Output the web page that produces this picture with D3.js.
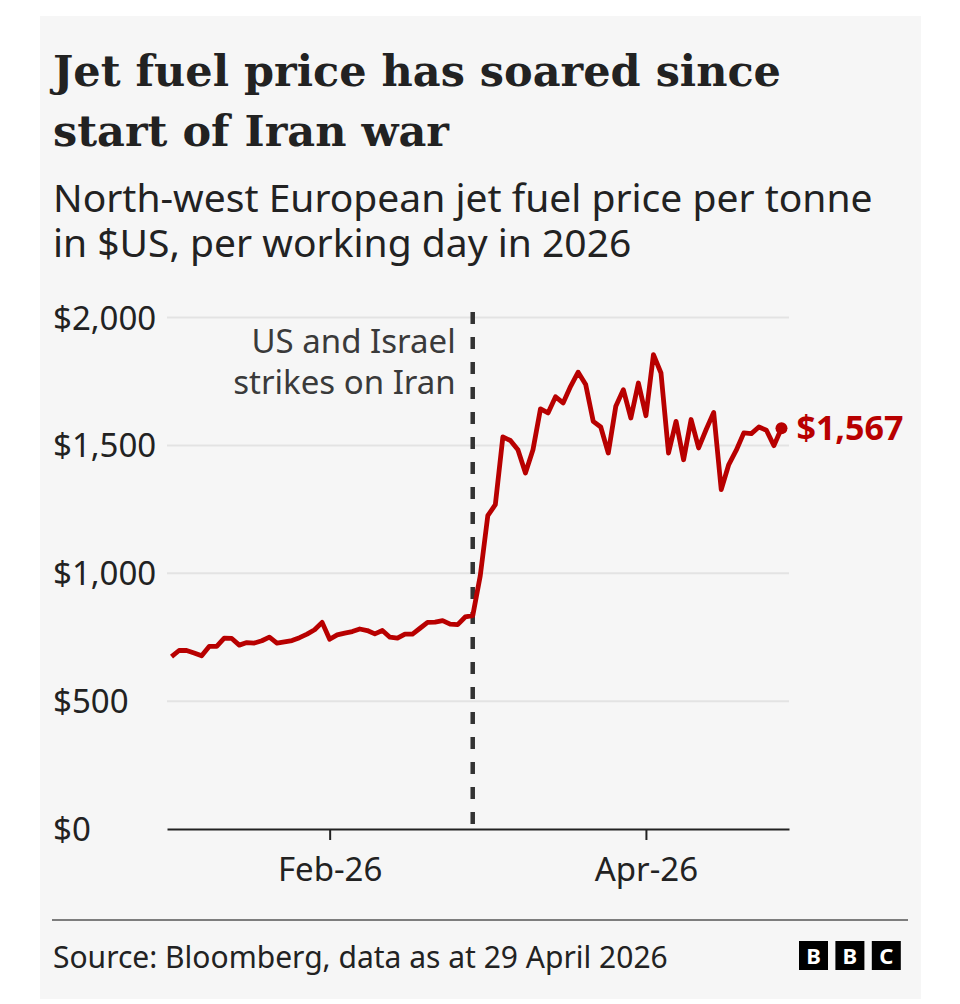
<!DOCTYPE html>
<html>
<head>
<meta charset="utf-8">
<script src="https://cdn.jsdelivr.net/npm/d3@7"></script>
<style>
  html, body { margin: 0; padding: 0; background: #ffffff; }
  svg { display: block; }
  .sans { font-family: "Noto Sans", "Open Sans", sans-serif; }
</style>
</head>
<body>
<svg id="chart" width="960" height="1004"></svg>
<script>
// working days shown on the chart (one point per day)
const dates = [
  "2026-01-02","2026-01-05","2026-01-06","2026-01-07","2026-01-08","2026-01-09",
  "2026-01-12","2026-01-13","2026-01-14","2026-01-15","2026-01-16",
  "2026-01-19","2026-01-20","2026-01-21","2026-01-22","2026-01-23",
  "2026-01-26","2026-01-27","2026-01-28","2026-01-29","2026-01-30",
  "2026-02-02","2026-02-03","2026-02-04","2026-02-05","2026-02-06",
  "2026-02-09","2026-02-10","2026-02-11","2026-02-12","2026-02-13",
  "2026-02-16","2026-02-17","2026-02-18","2026-02-19","2026-02-20",
  "2026-02-23","2026-02-24","2026-02-25","2026-02-26","2026-02-27",
  "2026-03-02","2026-03-03","2026-03-04","2026-03-05","2026-03-06",
  "2026-03-09","2026-03-10","2026-03-11","2026-03-12","2026-03-13",
  "2026-03-16","2026-03-17","2026-03-18","2026-03-19","2026-03-20",
  "2026-03-23","2026-03-24","2026-03-25","2026-03-26","2026-03-27",
  "2026-03-30","2026-03-31",
  "2026-04-01","2026-04-02","2026-04-07","2026-04-08","2026-04-09","2026-04-10",
  "2026-04-13","2026-04-14","2026-04-15","2026-04-16","2026-04-17",
  "2026-04-20","2026-04-21","2026-04-22","2026-04-23","2026-04-24",
  "2026-04-27","2026-04-28","2026-04-29"
];

// $ per tonne
const prices = [
  674, 698, 698, 688, 677, 714,
  714, 746, 745, 719, 729,
  727, 736, 750, 727, 732,
  737, 748, 762, 779, 808,
  742, 759, 766, 772, 782,
  776, 763, 776, 750, 746,
  762, 762, 785, 808, 809,
  815, 801, 799, 829, 834,
  990, 1225, 1268, 1533, 1519,
  1483, 1392, 1483, 1643, 1627,
  1690, 1666, 1731, 1786, 1738,
  1594, 1572, 1470, 1653, 1718,
  1607, 1744,
  1616, 1855, 1783, 1470, 1594, 1444,
  1601, 1490, 1562, 1629, 1327,
  1425, 1481, 1549, 1546, 1572,
  1559, 1499, 1567
];

const yTicks = [0, 500, 1000, 1500, 2000];
const xTickDates = ["2026-02-02", "2026-04-01"];
const strikeDate = "2026-02-27";
const strikeLabel = ["US and Israel", "strikes on Iran"];
const titleLines = ["Jet fuel price has soared since", "start of Iran war"];
const subtitleLines = ["North-west European jet fuel price per tonne", "in $US, per working day in 2026"];
const sourceText = "Source: Bloomberg, data as at 29 April 2026";

const red = "#b80000";
const ink = "#222222";

let svg = d3.select("#chart");

// grey card
svg.append("rect")
  .attr("x", 40).attr("y", 16)
  .attr("width", 881).attr("height", 983)
  .attr("fill", "#f6f6f6");

// title + subtitle
let title = svg.append("text")
  .attr("font-family", "'DejaVu Serif', serif")
  .attr("font-weight", "bold")
  .attr("font-size", 43)
  .attr("fill", ink);
titleLines.forEach(function (t, i) {
  title.append("tspan").attr("x", 53).attr("y", 86 + i * 60).text(t);
});

let sub = svg.append("text")
  .attr("class", "sans")
  .attr("font-size", 39)
  .attr("fill", ink);
subtitleLines.forEach(function (t, i) {
  sub.append("tspan").attr("x", 53).attr("y", 212 + i * 45).text(t);
});

// scales
let x = d3.scaleLinear()
  .domain([-0.6, dates.length])
  .range([167, 789]);
let y = d3.scaleLinear()
  .domain([0, 2000])
  .range([829, 317.5]);

let parseDay = d3.timeParse("%Y-%m-%d");
let fmtMonth = d3.timeFormat("%b-%y");

// gridlines + y labels
let g = svg.append("g");
g.selectAll("line.grid")
  .data(yTicks.filter(d => d > 0))
  .join("line")
  .attr("class", "grid")
  .attr("x1", x.range()[0]).attr("x2", x.range()[1])
  .attr("y1", d => y(d)).attr("y2", d => y(d))
  .attr("stroke", "#e3e3e3")
  .attr("stroke-width", 2);

g.selectAll("text.ylab")
  .data(yTicks)
  .join("text")
  .attr("class", "sans ylab")
  .attr("x", 53)
  .attr("y", d => y(d) + 12)
  .attr("font-size", 33)
  .attr("fill", ink)
  .text(d => "$" + d3.format(",")(d));

// x axis
let xAxis = d3.axisBottom(x)
  .tickValues(xTickDates.map(d => dates.indexOf(d)))
  .tickFormat(i => fmtMonth(parseDay(dates[i])))
  .tickSize(11)
  .tickSizeOuter(0);

let gx = svg.append("g")
  .attr("transform", "translate(0," + y(0) + ")")
  .call(xAxis);
gx.select(".domain").attr("stroke", ink).attr("stroke-width", 2);
gx.selectAll(".tick line").attr("stroke", ink).attr("stroke-width", 2);
gx.selectAll(".tick text")
  .attr("class", "sans")
  .attr("font-size", 33)
  .attr("fill", ink)
  .attr("y", 52)
  .attr("dy", 0);

// strike marker
let sx = x(dates.indexOf(strikeDate));
svg.append("line")
  .attr("x1", sx).attr("x2", sx)
  .attr("y1", 312).attr("y2", y(0))
  .attr("stroke", "#333333")
  .attr("stroke-width", 4.5)
  .attr("stroke-dasharray", "12,13");

let ann = svg.append("text")
  .attr("class", "sans")
  .attr("font-size", 33)
  .attr("fill", "#3a3a3a")
  .attr("text-anchor", "end");
strikeLabel.forEach(function (t, i) {
  ann.append("tspan").attr("x", sx - 17).attr("y", 353 + i * 41).text(t);
});

// price line
let line = d3.line()
  .x((d, i) => x(i))
  .y(d => y(d))
  .curve(d3.curveLinear);

svg.append("path")
  .datum(prices)
  .attr("d", line)
  .attr("fill", "none")
  .attr("stroke", red)
  .attr("stroke-width", 4.8)
  .attr("stroke-linejoin", "round");

let last = prices.length - 1;
svg.append("circle")
  .attr("cx", x(last)).attr("cy", y(prices[last]))
  .attr("r", 6)
  .attr("fill", red);

svg.append("text")
  .attr("class", "sans")
  .attr("x", x(last) + 15)
  .attr("y", y(prices[last]) + 12)
  .attr("font-size", 34)
  .attr("font-weight", "bold")
  .attr("fill", red)
  .text("$" + d3.format(",")(prices[last]));

// footer
svg.append("line")
  .attr("x1", 52).attr("x2", 908)
  .attr("y1", 920).attr("y2", 920)
  .attr("stroke", "#555555")
  .attr("stroke-width", 1.5);

svg.append("text")
  .attr("class", "sans")
  .attr("x", 53).attr("y", 968)
  .attr("font-size", 30)
  .attr("fill", ink)
  .text(sourceText);

// BBC blocks
let logo = svg.append("g").attr("transform", "translate(799,941)");
["B", "B", "C"].forEach(function (ch, i) {
  logo.append("rect")
    .attr("x", i * 36.4).attr("y", 0)
    .attr("width", 29).attr("height", 29)
    .attr("fill", "#000000");
  logo.append("text")
    .attr("class", "sans")
    .attr("x", i * 36.4 + 14.5).attr("y", 22.5)
    .attr("text-anchor", "middle")
    .attr("font-size", 22)
    .attr("font-weight", "bold")
    .attr("fill", "#ffffff")
    .text(ch);
});
</script>
</body>
</html>
